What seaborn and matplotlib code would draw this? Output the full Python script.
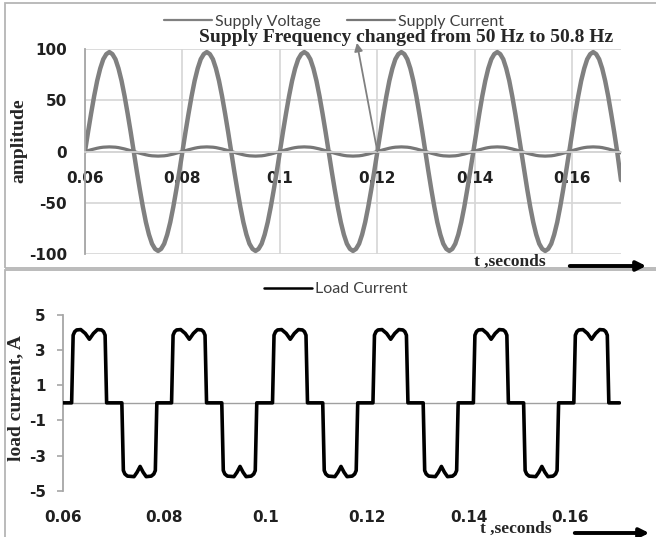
import numpy as np
import pandas as pd
import matplotlib
matplotlib.use("Agg")
import matplotlib.pyplot as plt
from matplotlib.patches import Rectangle, FancyArrowPatch
import seaborn as sns

# ====================== data ======================
# supply side: samples every 1/32 cycle (50 Hz up to 0.12 s, 50.8 Hz after)
t_supply = [
    0.060000, 0.060625, 0.061250, 0.061875, 0.062500, 0.063125, 0.063750, 0.064375,
    0.065000, 0.065625, 0.066250, 0.066875, 0.067500, 0.068125, 0.068750, 0.069375,
    0.070000, 0.070625, 0.071250, 0.071875, 0.072500, 0.073125, 0.073750, 0.074375,
    0.075000, 0.075625, 0.076250, 0.076875, 0.077500, 0.078125, 0.078750, 0.079375,
    0.080000, 0.080625, 0.081250, 0.081875, 0.082500, 0.083125, 0.083750, 0.084375,
    0.085000, 0.085625, 0.086250, 0.086875, 0.087500, 0.088125, 0.088750, 0.089375,
    0.090000, 0.090625, 0.091250, 0.091875, 0.092500, 0.093125, 0.093750, 0.094375,
    0.095000, 0.095625, 0.096250, 0.096875, 0.097500, 0.098125, 0.098750, 0.099375,
    0.100000, 0.100625, 0.101250, 0.101875, 0.102500, 0.103125, 0.103750, 0.104375,
    0.105000, 0.105625, 0.106250, 0.106875, 0.107500, 0.108125, 0.108750, 0.109375,
    0.110000, 0.110625, 0.111250, 0.111875, 0.112500, 0.113125, 0.113750, 0.114375,
    0.115000, 0.115625, 0.116250, 0.116875, 0.117500, 0.118125, 0.118750, 0.119375,
    0.120000,
    0.12062, 0.12123, 0.12185, 0.12246, 0.12308, 0.12369, 0.12431, 0.12492,
    0.12554, 0.12615, 0.12677, 0.12738, 0.12800, 0.12861, 0.12923, 0.12984,
    0.13046, 0.13107, 0.13169, 0.13230, 0.13292, 0.13353, 0.13415, 0.13476,
    0.13538, 0.13599, 0.13661, 0.13722, 0.13784, 0.13845, 0.13907, 0.13969,
    0.14030, 0.14092, 0.14153, 0.14215, 0.14276, 0.14338, 0.14399, 0.14461,
    0.14522, 0.14584, 0.14645, 0.14707, 0.14768, 0.14830, 0.14891, 0.14953,
    0.15014, 0.15076, 0.15137, 0.15199, 0.15260, 0.15322, 0.15383, 0.15445,
    0.15506, 0.15568, 0.15629, 0.15691, 0.15752, 0.15814, 0.15875, 0.15937,
    0.15999, 0.16060, 0.16122, 0.16183, 0.16245, 0.16306, 0.16368, 0.16429,
    0.16491, 0.16552, 0.16614, 0.16675, 0.16737, 0.16798, 0.16860, 0.16921,
    0.17000,
]
supply_voltage = [
    0, 19, 37, 54, 69, 81, 90, 95, 97, 95, 90, 81, 69, 54, 37, 19,
    0, -19, -37, -54, -69, -81, -90, -95, -97, -95, -90, -81, -69, -54, -37, -19,
    0, 19, 37, 54, 69, 81, 90, 95, 97, 95, 90, 81, 69, 54, 37, 19,
    0, -19, -37, -54, -69, -81, -90, -95, -97, -95, -90, -81, -69, -54, -37, -19,
    0, 19, 37, 54, 69, 81, 90, 95, 97, 95, 90, 81, 69, 54, 37, 19,
    0, -19, -37, -54, -69, -81, -90, -95, -97, -95, -90, -81, -69, -54, -37, -19,
    0,
    19, 37, 54, 69, 81, 90, 95, 97, 95, 90, 81, 69, 54, 37, 19, 0,
    -19, -37, -54, -69, -81, -90, -95, -97, -95, -90, -81, -69, -54, -37, -19, 0,
    19, 37, 54, 69, 81, 90, 95, 97, 95, 90, 81, 69, 54, 37, 19, 0,
    -19, -37, -54, -69, -81, -90, -95, -97, -95, -90, -81, -69, -54, -37, -19, 0,
    19, 37, 54, 69, 81, 90, 95, 97, 95, 90, 81, 69, 54, 37, 19, 0,
    -28,
]
supply_current = [
    0, 0.9, 1.7, 2.5, 3.2, 3.8, 4.2, 4.4, 4.5, 4.4, 4.2, 3.8, 3.2, 2.5, 1.7, 0.9,
    0, -0.9, -1.7, -2.5, -3.2, -3.8, -4.2, -4.4, -4.5, -4.4, -4.2, -3.8, -3.2, -2.5, -1.7, -0.9,
    0, 0.9, 1.7, 2.5, 3.2, 3.8, 4.2, 4.4, 4.5, 4.4, 4.2, 3.8, 3.2, 2.5, 1.7, 0.9,
    0, -0.9, -1.7, -2.5, -3.2, -3.8, -4.2, -4.4, -4.5, -4.4, -4.2, -3.8, -3.2, -2.5, -1.7, -0.9,
    0, 0.9, 1.7, 2.5, 3.2, 3.8, 4.2, 4.4, 4.5, 4.4, 4.2, 3.8, 3.2, 2.5, 1.7, 0.9,
    0, -0.9, -1.7, -2.5, -3.2, -3.8, -4.2, -4.4, -4.5, -4.4, -4.2, -3.8, -3.2, -2.5, -1.7, -0.9,
    0,
    0.9, 1.7, 2.5, 3.2, 3.8, 4.2, 4.4, 4.5, 4.4, 4.2, 3.8, 3.2, 2.5, 1.7, 0.9, 0,
    -0.9, -1.7, -2.5, -3.2, -3.8, -4.2, -4.4, -4.5, -4.4, -4.2, -3.8, -3.2, -2.5, -1.7, -0.9, 0,
    0.9, 1.7, 2.5, 3.2, 3.8, 4.2, 4.4, 4.5, 4.4, 4.2, 3.8, 3.2, 2.5, 1.7, 0.9, 0,
    -0.9, -1.7, -2.5, -3.2, -3.8, -4.2, -4.4, -4.5, -4.4, -4.2, -3.8, -3.2, -2.5, -1.7, -0.9, 0,
    0.9, 1.7, 2.5, 3.2, 3.8, 4.2, 4.4, 4.5, 4.4, 4.2, 3.8, 3.2, 2.5, 1.7, 0.9, 0,
    -1.3,
]

# load side: corner points of the quasi-square wave
t_load = [
    0.0600,
    0.0617, 0.0620, 0.0623, 0.0627, 0.0635, 0.0644, 0.0652, 0.0660, 0.0668,
    0.0676, 0.0680, 0.0683, 0.0686, 0.0716, 0.0719, 0.0722, 0.0727, 0.0740,
    0.0746, 0.0752, 0.0758, 0.0764, 0.0774, 0.0779, 0.0782, 0.0785,
    0.0814, 0.0817, 0.0820, 0.0824, 0.0832, 0.0841, 0.0849, 0.0857, 0.0865,
    0.0873, 0.0877, 0.0880, 0.0883, 0.0913, 0.0916, 0.0919, 0.0924, 0.0937,
    0.0943, 0.0949, 0.0955, 0.0961, 0.0971, 0.0976, 0.0979, 0.0982,
    0.1013, 0.1016, 0.1019, 0.1023, 0.1031, 0.1040, 0.1048, 0.1056, 0.1064,
    0.1072, 0.1076, 0.1079, 0.1082, 0.1112, 0.1115, 0.1118, 0.1123, 0.1136,
    0.1142, 0.1148, 0.1154, 0.1160, 0.1170, 0.1175, 0.1178, 0.1181,
    0.1211, 0.1214, 0.1217, 0.1221, 0.1229, 0.1238, 0.1246, 0.1254, 0.1262,
    0.1270, 0.1274, 0.1277, 0.1280, 0.1310, 0.1313, 0.1316, 0.1321, 0.1334,
    0.1340, 0.1346, 0.1352, 0.1358, 0.1368, 0.1373, 0.1376, 0.1379,
    0.1409, 0.1412, 0.1415, 0.1419, 0.1427, 0.1436, 0.1444, 0.1452, 0.1460,
    0.1468, 0.1472, 0.1475, 0.1478, 0.1508, 0.1511, 0.1514, 0.1519, 0.1532,
    0.1538, 0.1544, 0.1550, 0.1556, 0.1566, 0.1571, 0.1574, 0.1577,
    0.1607, 0.1610, 0.1613, 0.1617, 0.1625, 0.1634, 0.1642, 0.1650, 0.1658,
    0.1666, 0.1670, 0.1673, 0.1676, 0.1697,
]
load_current = [
    0,
    0, 3.85, 4.05, 4.15, 4.17, 3.95, 3.62, 3.95, 4.17,
    4.15, 4.05, 3.85, 0, 0, -3.85, -4.05, -4.17, -4.2,
    -3.95, -3.62, -3.95, -4.2, -4.17, -4.05, -3.85, 0,
    0, 3.85, 4.05, 4.15, 4.17, 3.95, 3.62, 3.95, 4.17,
    4.15, 4.05, 3.85, 0, 0, -3.85, -4.05, -4.17, -4.2,
    -3.95, -3.62, -3.95, -4.2, -4.17, -4.05, -3.85, 0,
    0, 3.85, 4.05, 4.15, 4.17, 3.95, 3.62, 3.95, 4.17,
    4.15, 4.05, 3.85, 0, 0, -3.85, -4.05, -4.17, -4.2,
    -3.95, -3.62, -3.95, -4.2, -4.17, -4.05, -3.85, 0,
    0, 3.85, 4.05, 4.15, 4.17, 3.95, 3.62, 3.95, 4.17,
    4.15, 4.05, 3.85, 0, 0, -3.85, -4.05, -4.17, -4.2,
    -3.95, -3.62, -3.95, -4.2, -4.17, -4.05, -3.85, 0,
    0, 3.85, 4.05, 4.15, 4.17, 3.95, 3.62, 3.95, 4.17,
    4.15, 4.05, 3.85, 0, 0, -3.85, -4.05, -4.17, -4.2,
    -3.95, -3.62, -3.95, -4.2, -4.17, -4.05, -3.85, 0,
    0, 3.85, 4.05, 4.15, 4.17, 3.95, 3.62, 3.95, 4.17,
    4.15, 4.05, 3.85, 0, 0,
]

x_ticks = [0.06, 0.08, 0.1, 0.12, 0.14, 0.16]
x_tick_labels = ["0.06", "0.08", "0.1", "0.12", "0.14", "0.16"]
amp_ticks = [-100, -50, 0, 50, 100]
load_ticks = [-5, -3, -1, 1, 3, 5]

df_supply = pd.DataFrame({"t": t_supply, "Supply Voltage": supply_voltage,
                          "Supply Current": supply_current})
df_load = pd.DataFrame({"t": t_load, "Load Current": load_current})

# ====================== style ======================
sns.set_theme(style="white")
plt.rcParams["font.family"] = ["DejaVu Sans"]
plt.rcParams["axes.unicode_minus"] = False
SERIF = "Liberation Serif"
LEG_FONT = "Lato"

W, H = 656, 537
fig = plt.figure(figsize=(W / 100, H / 100), dpi=100)


def fx(px):
    return px / W


def fy(py):
    return 1 - py / H


# panel frames (two pasted Excel charts)
for top, bot in [(3, 268), (270, 545)]:
    fig.add_artist(Rectangle((fx(5), fy(bot)), fx(700) - fx(5), fy(top) - fy(bot),
                             transform=fig.transFigure, fill=False,
                             ec="#b5b5b5", lw=1.3))

# ====================== top panel: supply ======================
ax1 = fig.add_axes([fx(85), fy(254), fx(621) - fx(85), fy(49) - fy(254)])
sns.lineplot(data=df_supply, x="t", y="Supply Voltage", ax=ax1, color="#808080",
             lw=3.2, label="Supply Voltage", estimator=None, sort=False)
sns.lineplot(data=df_supply, x="t", y="Supply Current", ax=ax1, color="#777777",
             lw=2.3, label="Supply Current", estimator=None, sort=False)
ax1.set_xlim(0.06, 0.17)
ax1.set_ylim(-100, 100)
ax1.set_xticks(x_ticks)
ax1.set_xticklabels(x_tick_labels)
ax1.set_yticks(amp_ticks)
ax1.grid(True, color="#d6d6d6", lw=1.2)
ax1.set_axisbelow(True)
for s in ["top", "right"]:
    ax1.spines[s].set_visible(False)
ax1.spines["bottom"].set_position(("data", 0))
ax1.spines["bottom"].set_color("#d6d6d6")
ax1.spines["left"].set_color("#a6a6a6")
ax1.spines["left"].set_linewidth(1.3)
ax1.tick_params(axis="x", length=0, pad=14, labelsize=11, labelcolor="#202020")
ax1.tick_params(axis="y", length=0, pad=13, labelsize=11, labelcolor="#202020")
for lab in ax1.get_xticklabels() + ax1.get_yticklabels():
    lab.set_fontweight("bold")
ax1.set_xlabel("")
ax1.set_ylabel("")
h1, l1 = ax1.get_legend_handles_labels()
ax1.get_legend().remove()
leg1 = fig.legend(h1, l1, loc="center", bbox_to_anchor=(fx(334), fy(22)), ncol=2,
                  frameon=False, handlelength=3.0, handletextpad=0.2,
                  columnspacing=1.6, prop={"family": LEG_FONT, "size": 11.5},
                  labelcolor="#404040")
for ln in leg1.get_lines():
    ln.set_linewidth(1.6)

fig.text(fx(406), fy(37), "Supply Frequency changed from 50 Hz to 50.8 Hz",
         family=SERIF, weight="bold", size=14, ha="center", va="center")
ax1.annotate("", xy=(0.1158, 106), xytext=(0.12, 0),
             arrowprops=dict(arrowstyle="-|>", color="#808080", lw=1.3,
                             mutation_scale=12, shrinkA=0, shrinkB=0),
             annotation_clip=False)
fig.text(fx(19), fy(141), "amplitude", family=SERIF, weight="bold", size=14,
         rotation=90, ha="center", va="center")
fig.text(fx(510), fy(262), "t ,seconds", family=SERIF, weight="bold", size=12.5,
         ha="center", va="center")
fig.add_artist(FancyArrowPatch((fx(567), fy(266)), (fx(649), fy(266)),
                               transform=fig.transFigure, arrowstyle="-|>",
                               mutation_scale=14, lw=2.8, color="black"))

# ====================== bottom panel: load ======================
ax2 = fig.add_axes([fx(63), fy(490.7), fx(621) - fx(63), fy(315) - fy(490.7)])
ax2.axhline(0, color="#a0a0a0", lw=1.0, zorder=1)
sns.lineplot(data=df_load, x="t", y="Load Current", ax=ax2, color="black",
             lw=2.6, label="Load Current", estimator=None, sort=False, zorder=3)
ax2.set_xlim(0.06, 0.17)
ax2.set_ylim(-5, 5)
ax2.set_xticks(x_ticks)
ax2.set_xticklabels(x_tick_labels)
ax2.set_yticks(load_ticks)
ax2.grid(False)
for s in ["top", "right", "bottom"]:
    ax2.spines[s].set_visible(False)
ax2.spines["left"].set_color("#a6a6a6")
ax2.spines["left"].set_linewidth(1.3)
ax2.tick_params(axis="x", length=0, pad=14, labelsize=11, labelcolor="#202020")
ax2.tick_params(axis="y", left=True, length=4.5, width=1.2, color="#a6a6a6",
                direction="out", pad=8, labelsize=11, labelcolor="#202020")
for lab in ax2.get_xticklabels() + ax2.get_yticklabels():
    lab.set_fontweight("bold")
ax2.set_xlabel("")
ax2.set_ylabel("")
h2, l2 = ax2.get_legend_handles_labels()
ax2.get_legend().remove()
leg2 = fig.legend(h2, l2, loc="center", bbox_to_anchor=(fx(336), fy(289)),
                  frameon=False, handlelength=3.0, handletextpad=0.2,
                  prop={"family": LEG_FONT, "size": 11.5}, labelcolor="#404040")
for ln in leg2.get_lines():
    ln.set_linewidth(1.8)

fig.text(fx(16), fy(398), "load current, A", family=SERIF, weight="bold", size=14,
         rotation=90, ha="center", va="center")
fig.text(fx(516), fy(529), "t ,seconds", family=SERIF, weight="bold", size=12.5,
         ha="center", va="center")
fig.add_artist(FancyArrowPatch((fx(572), fy(533)), (fx(652), fy(533)),
                               transform=fig.transFigure, arrowstyle="-|>",
                               mutation_scale=14, lw=2.8, color="black"))

fig.savefig("out.png", dpi=100)
